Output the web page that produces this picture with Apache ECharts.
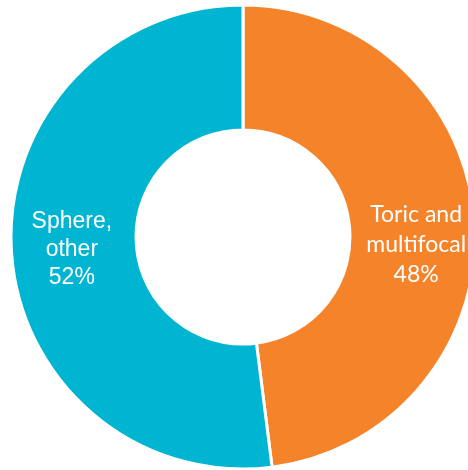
<!DOCTYPE html>
<html>
<head>
<meta charset="utf-8">
<script src="https://cdn.jsdelivr.net/npm/echarts@6/dist/echarts.min.js"></script>
<style>
  html, body { margin: 0; padding: 0; background: #fff; }
  #chart { width: 468px; height: 470px; }
</style>
</head>
<body>
<div id="chart"></div>
<script>
const categories = ['Toric and\nmultifocal', 'Sphere,\nother'];
const shares = [48, 52];
const colors = ['#F5832A', '#00B5D1'];

const chart = echarts.init(document.getElementById('chart'));

const labelStyles = [
    { fontFamily: 'Lato', fontSize: 23, lineHeight: 30, offset: [1, 18] },
    { fontFamily: 'Liberation Sans', fontSize: 23, lineHeight: 28, offset: [1, 2] }
];

const option = {
    animation: false,
    series: [
        {
            type: 'pie',
            center: [243, 237],
            radius: [107, 232],
            startAngle: 90,
            clockwise: true,
            data: categories.map((name, i) => ({
                name: name,
                value: shares[i],
                itemStyle: { color: colors[i] },
                label: labelStyles[i]
            })),
            itemStyle: {
                borderColor: '#fff',
                borderWidth: 3
            },
            label: {
                show: true,
                position: 'inside',
                color: '#fff',
                formatter: '{b}\n{c}%'
            },
            labelLine: { show: false },
            emphasis: { disabled: true }
        }
    ]
};

chart.setOption(option);
</script>
</body>
</html>
